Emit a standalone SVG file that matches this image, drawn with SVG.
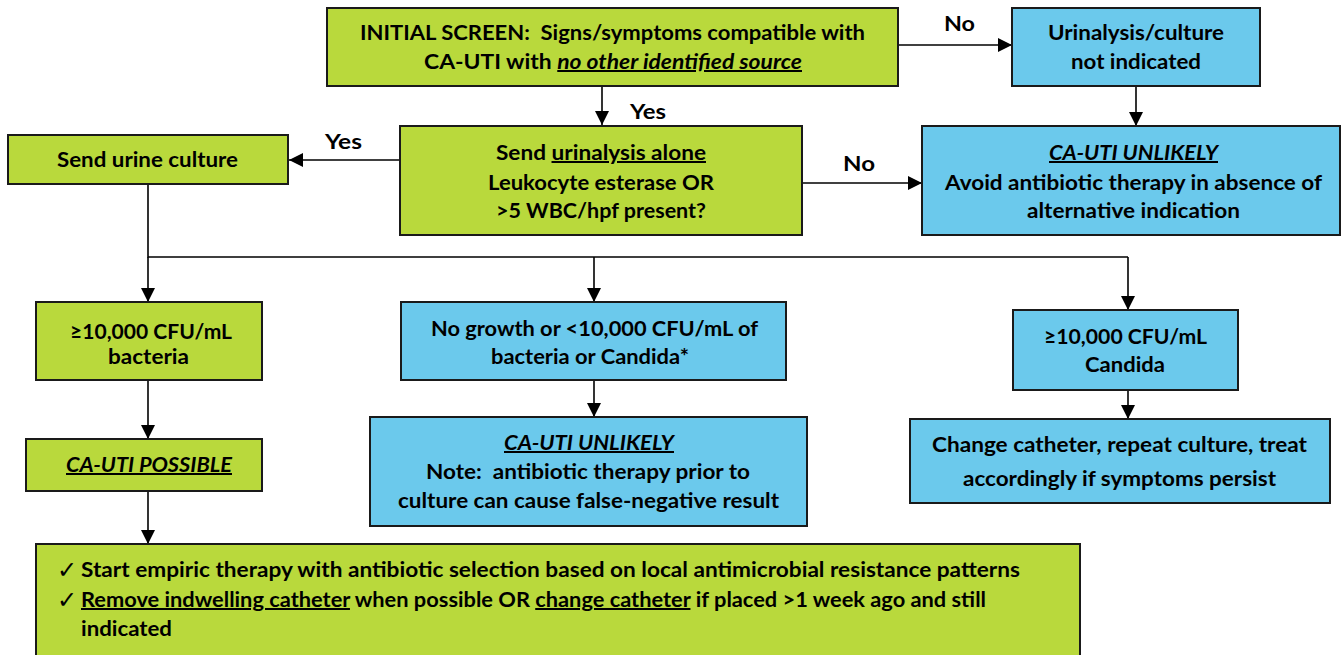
<svg xmlns="http://www.w3.org/2000/svg" width="1344" height="655" viewBox="0 0 1344 655">
<defs>
<marker id="ah" viewBox="0 0 10 10" refX="10" refY="5" markerWidth="14" markerHeight="14" markerUnits="userSpaceOnUse" orient="auto">
<path d="M0,0 L10,5 L0,10 z" fill="#000"/>
</marker>
<style>
.g{fill:#B9D93C;stroke:#1a1a1a;stroke-width:2}
.b{fill:#6BC9EC;stroke:#1a1a1a;stroke-width:2}
text{font-family:Lato,"Open Sans","Liberation Sans",sans-serif;font-weight:bold;font-size:20px;fill:#000}
.c{text-anchor:middle}
.u{text-decoration:underline}
.i{font-style:italic}
.ck{font-family:"DejaVu Sans",sans-serif;font-weight:normal;font-size:24px}
.ln{fill:none;stroke:#000;stroke-width:1.6}
.ar{fill:none;stroke:#000;stroke-width:1.6;marker-end:url(#ah)}
</style>
</defs>
<g id="connectors">
<path class="ar" d="M898,45 H1012"/>
<path class="ar" d="M1136,86 V126"/>
<path class="ar" d="M602,86 V125"/>
<path class="ar" d="M802,183 H922"/>
<path class="ar" d="M400,160 H289"/>
<path class="ln" d="M148,164 V257 H1128"/>
<path class="ar" d="M148,257 V302"/>
<path class="ar" d="M594,257 V302"/>
<path class="ar" d="M1128,257 V310"/>
<path class="ar" d="M148,380 V439"/>
<path class="ar" d="M148,491 V544"/>
<path class="ar" d="M594,380 V417"/>
<path class="ar" d="M1128,390 V419"/>
<text x="944" y="31" textLength="31" lengthAdjust="spacingAndGlyphs">No</text>
<text x="630" y="119" textLength="36" lengthAdjust="spacingAndGlyphs">Yes</text>
<text x="843" y="171" textLength="32" lengthAdjust="spacingAndGlyphs">No</text>
<text x="325" y="149" textLength="37" lengthAdjust="spacingAndGlyphs">Yes</text>
</g>
<g id="initial">
<rect class="g" x="327" y="8" width="571" height="78"/>
<text x="360" y="40" textLength="505" lengthAdjust="spacingAndGlyphs">INITIAL SCREEN:&#160; Signs/symptoms compatible with</text>
<text x="424" y="69" textLength="378" lengthAdjust="spacingAndGlyphs">CA-UTI with <tspan class="u i">no other identified source</tspan></text>
</g>
<g id="not-indicated">
<rect class="b" x="1012" y="8" width="248" height="78"/>
<text x="1048" y="40" textLength="176" lengthAdjust="spacingAndGlyphs">Urinalysis/culture</text>
<text x="1071" y="69" textLength="130" lengthAdjust="spacingAndGlyphs">not indicated</text>
</g>
<g id="unlikely-right">
<rect class="b" x="922" y="126" width="418" height="109"/>
<text x="1049" y="160" class="u i" textLength="169" lengthAdjust="spacingAndGlyphs">CA-UTI UNLIKELY</text>
<text x="945" y="190" textLength="377" lengthAdjust="spacingAndGlyphs">Avoid antibiotic therapy in absence of</text>
<text x="1027" y="218" textLength="213" lengthAdjust="spacingAndGlyphs">alternative indication</text>
</g>
<g id="urinalysis">
<rect class="g" x="400" y="126" width="402" height="109"/>
<text x="496" y="160" textLength="210" lengthAdjust="spacingAndGlyphs">Send <tspan class="u">urinalysis alone</tspan></text>
<text x="488" y="190" textLength="226" lengthAdjust="spacingAndGlyphs">Leukocyte esterase OR</text>
<text x="496" y="218" textLength="210" lengthAdjust="spacingAndGlyphs">&gt;5 WBC/hpf present?</text>
</g>
<g id="urine-culture">
<rect class="g" x="8" y="135" width="280" height="49"/>
<text x="57" y="167" textLength="181" lengthAdjust="spacingAndGlyphs">Send urine culture</text>
</g>
<g id="bacteria">
<rect class="g" x="36" y="302" width="226" height="78"/>
<text x="70" y="339" textLength="162" lengthAdjust="spacingAndGlyphs">≥10,000 CFU/mL</text>
<text x="108" y="364" textLength="81" lengthAdjust="spacingAndGlyphs">bacteria</text>
</g>
<g id="possible">
<rect class="g" x="26" y="439" width="236" height="52"/>
<text x="66" y="472" class="u i" textLength="166" lengthAdjust="spacingAndGlyphs">CA-UTI POSSIBLE</text>
</g>
<g id="no-growth">
<rect class="b" x="401" y="302" width="385" height="78"/>
<text x="431" y="336" textLength="327" lengthAdjust="spacingAndGlyphs">No growth or &lt;10,000 CFU/mL of</text>
<text x="491" y="364" textLength="198" lengthAdjust="spacingAndGlyphs">bacteria or Candida*</text>
</g>
<g id="unlikely-middle">
<rect class="b" x="370" y="417" width="437" height="109"/>
<text x="504" y="450" class="u i" textLength="170" lengthAdjust="spacingAndGlyphs">CA-UTI UNLIKELY</text>
<text x="426" y="479" textLength="324" lengthAdjust="spacingAndGlyphs">Note:&#160; antibiotic therapy prior to</text>
<text x="398" y="508" textLength="381" lengthAdjust="spacingAndGlyphs">culture can cause false-negative result</text>
</g>
<g id="candida">
<rect class="b" x="1013" y="310" width="225" height="80"/>
<text x="1044" y="344" textLength="163" lengthAdjust="spacingAndGlyphs">≥10,000 CFU/mL</text>
<text x="1085" y="372" textLength="80" lengthAdjust="spacingAndGlyphs">Candida</text>
</g>
<g id="change-catheter">
<rect class="b" x="910" y="419" width="420" height="84"/>
<text x="932" y="452" textLength="375" lengthAdjust="spacingAndGlyphs">Change catheter, repeat culture, treat</text>
<text x="963" y="486" textLength="313" lengthAdjust="spacingAndGlyphs">accordingly if symptoms persist</text>
</g>
<g id="therapy">
<rect class="g" x="36" y="544" width="1044" height="120"/>
<text x="57" y="578" class="ck">✓</text>
<text x="81" y="577" textLength="939" lengthAdjust="spacingAndGlyphs">Start empiric therapy with antibiotic selection based on local antimicrobial resistance patterns</text>
<text x="57" y="608" class="ck">✓</text>
<text x="81" y="607" textLength="905" lengthAdjust="spacingAndGlyphs"><tspan class="u">Remove indwelling catheter</tspan> when possible OR <tspan class="u">change catheter</tspan> if placed &gt;1 week ago and still</text>
<text x="81" y="636" textLength="91" lengthAdjust="spacingAndGlyphs">indicated</text>
</g>
</svg>
